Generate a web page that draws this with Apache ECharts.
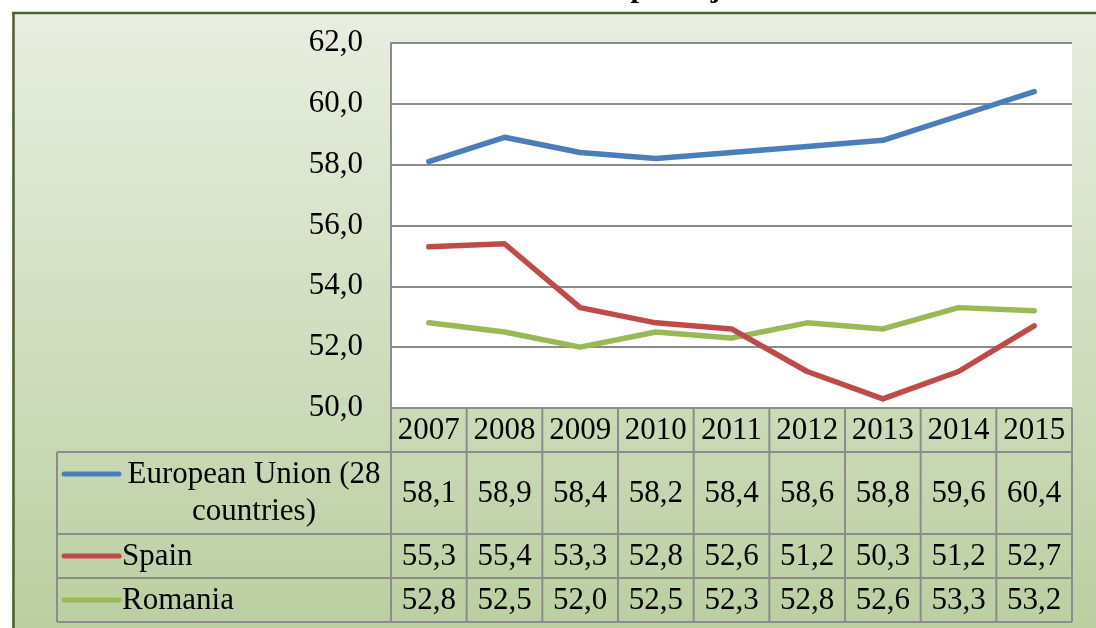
<!DOCTYPE html>
<html>
<head>
<meta charset="utf-8">
<script src="https://cdn.jsdelivr.net/npm/echarts@6/dist/echarts.min.js"></script>
<style>
  html, body { margin: 0; padding: 0; background: #fff; }
  #chart { width: 1096px; height: 628px; }
</style>
</head>
<body>
<div id="chart"></div>
<script>
var years = ['2007', '2008', '2009', '2010', '2011', '2012', '2013', '2014', '2015'];
var euValues = [58.1, 58.9, 58.4, 58.2, 58.4, 58.6, 58.8, 59.6, 60.4];
var spainValues = [55.3, 55.4, 53.3, 52.8, 52.6, 51.2, 50.3, 51.2, 52.7];
var romaniaValues = [52.8, 52.5, 52.0, 52.5, 52.3, 52.8, 52.6, 53.3, 53.2];
var seriesNames = ['European Union (28\ncountries)', 'Spain', 'Romania'];
var seriesColors = ['#4a7ebb', '#be4b48', '#98b954'];
var yMin = 50, yMax = 62, yStep = 2;
var titleText = 'Graficul 1. Rata de ocupare ajustată';

var serif = '"Liberation Serif", "Times New Roman", serif';
var gridCol = '#8c8c8c';
var fs = 31;

var dom = document.getElementById('chart');
var myChart = echarts.init(dom, null, { renderer: 'canvas' });

function fmt(v) {
  return v.toFixed(1).replace('.', ',');
}

var allValues = [euValues, spainValues, romaniaValues];

var option = {
  animation: false,
  backgroundColor: new echarts.graphic.LinearGradient(0, 0, 0, 1, [
    { offset: 0, color: '#e9efe2' },
    { offset: 1, color: '#bbcfa1' }
  ]),
  grid: {
    left: 391, right: 24, top: 43, bottom: 220,
    show: true, backgroundColor: '#ffffff', borderWidth: 0
  },
  xAxis: {
    type: 'category',
    data: years,
    boundaryGap: true,
    axisLine: { show: false },
    axisTick: { show: false },
    axisLabel: { show: false }
  },
  yAxis: {
    type: 'value',
    min: yMin, max: yMax, interval: yStep,
    axisLine: { show: true, lineStyle: { color: gridCol, width: 2 } },
    axisTick: { show: false },
    axisLabel: {
      formatter: fmt, color: '#000', fontFamily: serif, fontSize: fs, margin: 28
    },
    splitLine: { lineStyle: { color: gridCol, width: 2 } }
  },
  series: allValues.map(function (vals, i) {
    return {
      type: 'line',
      name: seriesNames[i],
      data: vals,
      showSymbol: false,
      symbol: 'none',
      lineStyle: { color: seriesColors[i], width: 5.5, cap: 'round', join: 'round' },
      z: 3 + (2 - i)
    };
  })
};
myChart.setOption(option);

// data table under the plot, columns taken from the category axis
var x0 = myChart.convertToPixel({ xAxisIndex: 0 }, years[0]);
var x1 = myChart.convertToPixel({ xAxisIndex: 0 }, years[1]);
var colW = x1 - x0;
var tLeft = x0 - colW / 2;
var tRight = tLeft + colW * years.length;
var rowY = [408, 452, 534, 578, 622];
var legLeft = 57;

var els = [];
function hline(x1_, x2_, y) {
  els.push({ type: 'line', shape: { x1: x1_, y1: y, x2: x2_, y2: y }, style: { stroke: gridCol, lineWidth: 2 }, z: 5 });
}
function vline(x, y1_, y2_) {
  els.push({ type: 'line', shape: { x1: x, y1: y1_, x2: x, y2: y2_ }, style: { stroke: gridCol, lineWidth: 2 }, z: 5 });
}
function txt(s, x, y, align) {
  els.push({ type: 'text', z: 6, style: { text: s, x: x, y: y, align: align || 'center', verticalAlign: 'middle', font: fs + 'px ' + serif, fill: '#000', lineHeight: 37 } });
}

hline(tLeft, tRight, rowY[0]);
for (var r = 1; r < rowY.length; r++) hline(legLeft, tRight, rowY[r]);
vline(legLeft, rowY[1], rowY[4]);
for (var c = 0; c <= years.length; c++) vline(tLeft + c * colW, rowY[0], rowY[4]);

years.forEach(function (y, i) {
  txt(y, tLeft + colW * (i + 0.5), (rowY[0] + rowY[1]) / 2 + 1);
});
allValues.forEach(function (vals, s) {
  var cy = (rowY[s + 1] + rowY[s + 2]) / 2;
  vals.forEach(function (v, i) {
    txt(fmt(v), tLeft + colW * (i + 0.5), cy + 1);
  });
});

// legend keys
var keyY = [474, 556, 600];
seriesColors.forEach(function (col, s) {
  els.push({ type: 'line', z: 6, shape: { x1: 64, y1: keyY[s], x2: 119, y2: keyY[s] }, style: { stroke: col, lineWidth: 5, lineCap: 'round' } });
});
txt(seriesNames[0], 254, 493);
txt(seriesNames[1], 122, 557, 'left');
txt(seriesNames[2], 122, 601, 'left');

// outer frame and clipped title
els.push({ type: 'rect', z: 7, shape: { x: 0, y: 0, width: 1096, height: 12 }, style: { fill: '#fff' } });
els.push({ type: 'rect', z: 7, shape: { x: 0, y: 0, width: 12, height: 628 }, style: { fill: '#fff' } });
els.push({ type: 'line', z: 8, shape: { x1: 12, y1: 13, x2: 1096, y2: 13 }, style: { stroke: '#4f6228', lineWidth: 2.5 } });
els.push({ type: 'line', z: 8, shape: { x1: 13.5, y1: 12, x2: 13.5, y2: 628 }, style: { stroke: '#4f6228', lineWidth: 2.5 } });
els.push({ type: 'text', z: 9, style: { text: titleText, x: 566, y: 4, align: 'center', verticalAlign: 'bottom', font: 'bold 30px ' + serif, fill: '#000' } });

myChart.setOption({ graphic: { elements: els } });
</script>
</body>
</html>
